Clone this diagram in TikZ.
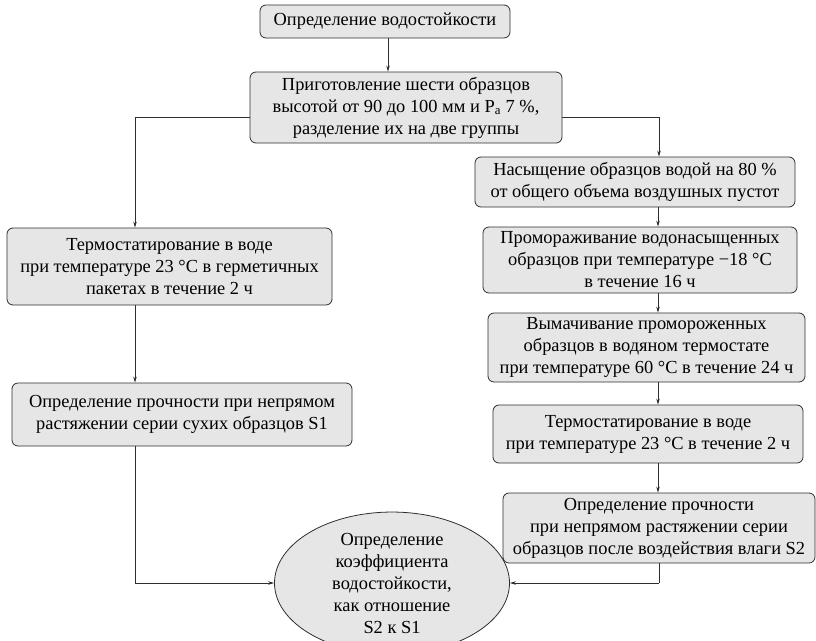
\documentclass[tikz,border=0pt]{standalone}
\usepackage{fontspec}
\setmainfont{Liberation Serif}
\usetikzlibrary{arrows.meta,shapes.geometric}
\definecolor{boxfill}{HTML}{E6E6E6}
\definecolor{linec}{HTML}{2E2E2E}
\begin{document}
\begin{tikzpicture}[x=1pt,y=-1pt,
  every node/.style={font=\fontsize{18.4}{22}\selectfont, text=black, align=center, inner sep=0pt},
  stepbox/.style={draw=linec, fill=boxfill, rounded corners=6pt, line width=0.8pt},
  ovalbox/.style={draw=linec, fill=boxfill, ellipse, line width=0.8pt},
  conn/.style={draw=linec, line width=0.8pt},
  arr/.style={conn, -{Stealth[length=6pt,width=3.5pt]}}]
\useasboundingbox (0,0) rectangle (816,640);
\node[stepbox, minimum width=250pt, minimum height=33pt] (b1) at (385,21.5) {Определение водостойкости};
\node[stepbox, minimum width=312pt, minimum height=71pt] (b2) at (406,107.5) {Приготовление шести образцов\\высотой от 90 до 100 мм и P\textsubscript{a} 7~\%,\\разделение их на две группы};
\node[stepbox, minimum width=325pt, minimum height=77pt] (b3) at (169.5,266.5) {Термостатирование в воде\\при температуре 23 °C в герметичных\\пакетах в течение 2 ч};
\node[stepbox, minimum width=340pt, minimum height=63pt] (b4) at (182,414.5) {Определение прочности при непрямом\\растяжении серии сухих образцов S1};
\node[stepbox, minimum width=320pt, minimum height=50pt] (b5) at (635,182) {Насыщение образцов водой на 80~\%\\от общего объема воздушных пустот};
\node[stepbox, minimum width=314pt, minimum height=66pt] (b6) at (640,260) {Промораживание водонасыщенных\\образцов при температуре −18 °C\\в течение 16 ч};
\node[stepbox, minimum width=317pt, minimum height=69pt] (b7) at (646.5,347.5) {Вымачивание промороженных\\образцов в водяном термостате\\при температуре 60 °C в течение 24 ч};
\node[stepbox, minimum width=310pt, minimum height=58pt] (b8) at (648,434) {Термостатирование в воде\\при температуре 23 °C в течение 2 ч};
\node[stepbox, minimum width=312pt, minimum height=70pt] (b9) at (659,528) {Определение прочности\\при непрямом растяжении серии\\образцов после воздействия влаги S2};
\node[ovalbox, minimum width=235pt, minimum height=116pt] (el) at (392,583) {Определение\\коэффициента\\водостойкости,\\как отношение\\S2 к S1};
\coordinate (L) at (135,117);
\coordinate (R) at (659,117);
\coordinate (E) at (135,583);
\coordinate (F) at (659,583);
\draw[arr] (b1.south -| 388,0) -- (b2.north -| 388,0);
\draw[arr] (b2.west |- L) -- (L) -- (L |- b3.north);
\draw[arr] (b3.south -| L) -- (b4.north -| L);
\draw[conn] (b4.south -| L) -- (E);
\draw[arr] (E) -- (el.west);
\draw[arr] (b2.east |- R) -- (R) -- (R |- b5.north);
\draw[arr] (b5.south -| 658,0) -- (b6.north -| 658,0);
\draw[arr] (b6.south -| 658,0) -- (b7.north -| 658,0);
\draw[arr] (b7.south -| 658,0) -- (b8.north -| 658,0);
\draw[arr] (b8.south -| 658,0) -- (b9.north -| 658,0);
\draw[conn] (b9.south -| F) -- (F);
\draw[arr] (F) -- (el.east);
\end{tikzpicture}
\end{document}
